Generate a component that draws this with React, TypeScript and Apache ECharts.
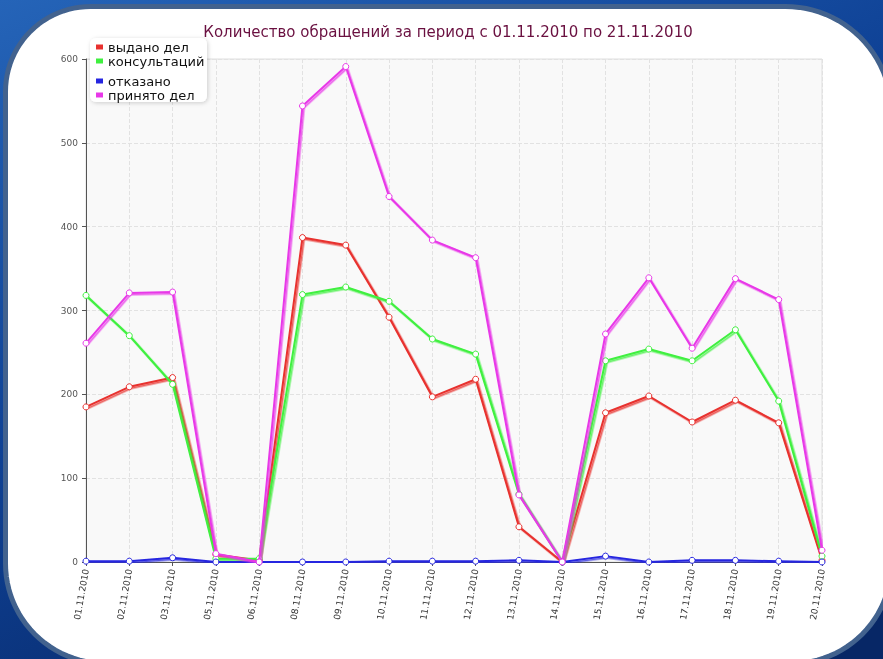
import React, { useEffect, useRef } from "react";
import * as echarts from "echarts";

const dates = [
  "01.11.2010", "02.11.2010", "03.11.2010", "05.11.2010", "06.11.2010", "08.11.2010",
  "09.11.2010", "10.11.2010", "11.11.2010", "12.11.2010", "13.11.2010", "14.11.2010",
  "15.11.2010", "16.11.2010", "17.11.2010", "18.11.2010", "19.11.2010", "20.11.2010",
];
const issued = [185, 209, 220, 9, 2, 387, 378, 292, 197, 218, 42, 0, 178, 198, 167, 193, 166, 2];
const consults = [318, 270, 212, 4, 4, 319, 328, 311, 266, 248, 81, 0, 240, 254, 240, 277, 192, 7];
const refused = [1, 1, 5, 0, 0, 0, 0, 1, 1, 1, 2, 0, 7, 0, 2, 2, 1, 0];
const accepted = [261, 321, 322, 10, 0, 544, 591, 436, 384, 363, 80, 0, 272, 339, 255, 338, 313, 14];

const seriesNames = ["выдано дел", "консультаций", "отказано", "принято дел"];
const seriesColors = ["#e8312f", "#3ff03f", "#2525e0", "#e838e8"];
const seriesShadows = [
  "rgba(232,49,47,0.8)",
  "rgba(63,240,63,0.8)",
  "rgba(37,37,224,0.8)",
  "rgba(232,56,232,0.8)",
];
const yTicks = { min: 0, max: 600, interval: 100 };
const titleText = "Количество обращений за период с 01.11.2010 по 21.11.2010";

const FONT = "DejaVu Sans";

// rounded panel outline (decoration only)
function roundedOutline(x: number, y: number, w: number, h: number, r: number[]) {
  const pts: number[][] = [];
  const corners = [
    { cx: x + r[0], cy: y + r[0], rad: r[0], a0: Math.PI, a1: 1.5 * Math.PI },
    { cx: x + w - r[1], cy: y + r[1], rad: r[1], a0: 1.5 * Math.PI, a1: 2 * Math.PI },
    { cx: x + w - r[2], cy: y + h - r[2], rad: r[2], a0: 0, a1: 0.5 * Math.PI },
    { cx: x + r[3], cy: y + h - r[3], rad: r[3], a0: 0.5 * Math.PI, a1: Math.PI },
  ];
  corners.forEach((c) => {
    const n = 24;
    for (let k = 0; k <= n; k++) {
      const a = c.a0 + ((c.a1 - c.a0) * k) / n;
      pts.push([c.cx + c.rad * Math.cos(a), c.cy + c.rad * Math.sin(a)]);
    }
  });
  return pts;
}

export default function App() {
  const ref = useRef<HTMLDivElement>(null);
  useEffect(() => {
    if (!ref.current) return;
    const chart = echarts.init(ref.current, undefined, { renderer: "svg" });
    const dataSets = [issued, consults, refused, accepted];
    const legendItems = seriesNames.map((name, i) => ({
      name,
      itemStyle: { color: seriesColors[i], borderWidth: 0 },
    }));
    const panel = roundedOutline(5.5, 6.5, 886, 657, [85, 106, 100, 100]);
    const legendCommon = {
      orient: "vertical",
      left: 96,
      padding: 0,
      itemGap: 0,
      itemWidth: 7,
      itemHeight: 5,
      icon: "rect",
      z: 5,
      textStyle: { fontSize: 13, lineHeight: 14, color: "#111", fontFamily: FONT },
    };
    const option: any = {
      animation: false,
      title: {
        text: titleText,
        left: 443,
        textAlign: "center",
        top: 19,
        textStyle: { color: "#6a1040", fontSize: 15, fontWeight: "normal", fontFamily: FONT },
      },
      graphic: [
        {
          type: "rect",
          z: -20,
          silent: true,
          shape: { x: 0, y: 0, width: 883, height: 659 },
          style: {
            fill: new echarts.graphic.LinearGradient(0, 0, 0.6, 1, [
              { offset: 0, color: "#2564b8" },
              { offset: 0.5, color: "#0f4296" },
              { offset: 1, color: "#072766" },
            ]),
          },
        },
        {
          type: "polygon",
          z: -19,
          silent: true,
          shape: { points: panel },
          style: { fill: "#ffffff", stroke: "#42628e", lineWidth: 5 },
        },
        {
          type: "rect",
          z: 3,
          silent: true,
          shape: { x: 90, y: 38, width: 117, height: 64, r: 6 },
          style: {
            fill: "#ffffff",
            shadowBlur: 4,
            shadowColor: "rgba(0,0,0,0.18)",
            shadowOffsetX: 1,
            shadowOffsetY: 1,
          },
        },
      ],
      legend: [
        { ...legendCommon, data: legendItems.slice(0, 2), top: 40 },
        { ...legendCommon, data: legendItems.slice(2, 4), top: 74 },
      ],
      grid: {
        left: 86,
        right: 61,
        top: 59,
        bottom: 97,
        show: true,
        backgroundColor: "#f9f9f9",
        borderColor: "#dedede",
        borderWidth: 1,
      },
      xAxis: {
        type: "category",
        data: dates,
        boundaryGap: false,
        axisLine: { lineStyle: { color: "#555" } },
        axisTick: { show: true, length: 4, lineStyle: { color: "#555" } },
        axisLabel: { rotate: 80, margin: 7, fontSize: 9, color: "#333", fontFamily: FONT, interval: 0 },
        splitLine: { show: true, lineStyle: { color: "#e2e2e2", type: "dashed" } },
      },
      yAxis: {
        type: "value",
        min: yTicks.min,
        max: yTicks.max,
        interval: yTicks.interval,
        axisLine: { show: true, lineStyle: { color: "#555" } },
        axisTick: { show: true, length: 4, lineStyle: { color: "#555" } },
        axisLabel: { fontSize: 9, color: "#555", margin: 8, fontFamily: FONT },
        splitLine: { show: true, lineStyle: { color: "#e2e2e2", type: "dashed" } },
      },
      series: seriesNames.map((name, i) => ({
        name,
        type: "line",
        data: dataSets[i],
        symbol: "circle",
        symbolSize: 6,
        showSymbol: true,
        lineStyle: {
          width: 2,
          color: seriesColors[i],
          shadowColor: seriesShadows[i],
          shadowBlur: 0,
          shadowOffsetX: 1.5,
          shadowOffsetY: 1.5,
        },
        itemStyle: { color: "#ffffff", borderColor: seriesColors[i], borderWidth: 1 },
        z: 2 + i,
      })),
    };
    chart.setOption(option);
    return () => chart.dispose();
  }, []);
  return (
    <div ref={ref} style={{ position: "fixed", left: 0, top: 0, width: 883, height: 659 }} />
  );
}
